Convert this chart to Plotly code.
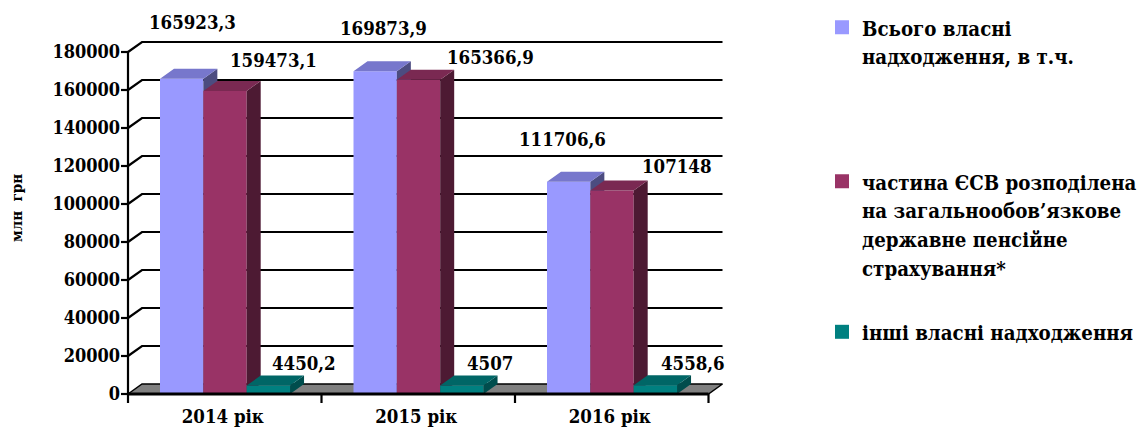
import plotly.graph_objects as go

# ---------------- data ----------------
categories = ["2014 рік", "2015 рік", "2016 рік"]
series_names = [
    "Всього власні<br>надходження, в т.ч.",
    "частина ЄСВ розподілена<br>на загальнообов’язкове<br>державне пенсійне<br>страхування*",
    "інші власні надходження",
]
total_own = [165923.3, 169873.9, 111706.6]
esv_pension = [159473.1, 165366.9, 107148]
other_own = [4450.2, 4507, 4558.6]
y_ticks = [0, 20000, 40000, 60000, 80000, 100000, 120000, 140000, 160000, 180000]

series_values = [total_own, esv_pension, other_own]

# ---------------- style ----------------
FONT = "DejaVu Serif Condensed, DejaVu Serif"
front_colors = ["#9999FF", "#993366", "#008080"]
top_colors = ["#7777CC", "#7A2952", "#006666"]
side_colors = ["#4C4C80", "#4D1A33", "#004D4D"]

W, H = 1147, 430
PX_X = 193.5            # px per category
PX_Y = 342 / 180000     # px per unit
LEFT_PX, RIGHT_PX, TOP_PX, BOT_PX = 121, 732, 30, 403
X0_PX, Y0_PX = 128, 394  # pixel of (0, 0)
DEPTH_X_PX, DEPTH_Y_PX = 14, 10

dxu = DEPTH_X_PX / PX_X
dyu = DEPTH_Y_PX / PX_Y
xmin = -(X0_PX - LEFT_PX) / PX_X
xmax = xmin + (RIGHT_PX - LEFT_PX) / PX_X
ymin = -(BOT_PX - Y0_PX) / PX_Y
ymax = (Y0_PX - TOP_PX) / PX_Y

group_offset = 0.1654
bar_w = 0.224
n_cat = len(categories)

# label shifts in pixels (x right, y up) relative to bar front-top centre
label_shift = [
    [(11, 56), (8, 43), (-6, 42)],
    [(48, 31), (72, 22), (64, 24)],
    [(36, 22), (28, 22), (38, 22)],
]

fig = go.Figure()

def poly_trace(xs, ys, color, line_color=None, line_width=0):
    return go.Scatter(x=xs, y=ys, mode="lines", fill="toself", fillcolor=color,
                      line=dict(color=line_color or color, width=line_width),
                      hoverinfo="skip", showlegend=False)

def line_trace(xs, ys, width=2, color="black"):
    return go.Scatter(x=xs, y=ys, mode="lines", line=dict(color=color, width=width),
                      hoverinfo="skip", showlegend=False)

# floor
fig.add_trace(poly_trace([0, n_cat, n_cat + dxu, dxu, 0], [0, 0, dyu, dyu, 0],
                         "#808080", "black", 1.5))

# back wall gridlines with diagonal connectors
gx, gy = [], []
for t in y_ticks[1:]:
    gx += [0, dxu, n_cat + dxu, None]
    gy += [t, t + dyu, t + dyu, None]
fig.add_trace(line_trace(gx, gy, 2.2))

# bars (front, side, top faces)
for j, vals in enumerate(series_values):
    fx, fy, sx, sy, tx, ty = [], [], [], [], [], []
    for i, v in enumerate(vals):
        xl = i + group_offset + j * bar_w
        xr = xl + bar_w
        fx += [xl, xr, xr, xl, xl, None]
        fy += [0, 0, v, v, 0, None]
        sx += [xr, xr + dxu, xr + dxu, xr, xr, None]
        sy += [0, dyu, v + dyu, v, 0, None]
        tx += [xl, xr, xr + dxu, xl + dxu, xl, None]
        ty += [v, v, v + dyu, v + dyu, v, None]
    fig.add_trace(poly_trace(fx, fy, front_colors[j]))
    fig.add_trace(poly_trace(sx, sy, side_colors[j]))
    fig.add_trace(poly_trace(tx, ty, top_colors[j]))

# front axes
fig.add_trace(line_trace([0, 0], [0, y_ticks[-1]], 2.2))
fig.add_trace(line_trace([0, n_cat], [0, 0], 3))
tkx, tky = [], []
for t in y_ticks:
    tkx += [-7 / PX_X, 0, None]
    tky += [t, t, None]
for k in range(n_cat + 1):
    tkx += [k, k, None]
    tky += [0, -9 / PX_Y, None]
fig.add_trace(line_trace(tkx, tky, 2.2))

# legend-only traces (line spacing from the legend font size, glyphs from the span)
legend_ids = ["legend", "legend2", "legend3"]
for j, name in enumerate(series_names):
    styled = "<br>".join("<span style='font-size:20.3px'><b>%s</b></span>" % ln
                         for ln in name.split("<br>"))
    fig.add_trace(go.Scatter(x=[None], y=[None], mode="markers", name=styled,
                             marker=dict(symbol="square", size=14, color=front_colors[j],
                                         line=dict(width=0)),
                             legend=legend_ids[j], showlegend=True))

pw = RIGHT_PX - LEFT_PX
ph = BOT_PX - TOP_PX

# data labels
annotations = []
for j, vals in enumerate(series_values):
    for i, v in enumerate(vals):
        xc = i + group_offset + j * bar_w + bar_w / 2
        txt = ("%s" % v).replace(".", ",")
        sx_, sy_ = label_shift[j][i]
        annotations.append(dict(x=xc, y=v, xref="x", yref="y", text=txt, showarrow=False,
                                xshift=sx_, yshift=sy_, xanchor="center", yanchor="middle",
                                font=dict(family=FONT, size=18.5, color="black", weight="bold")))

annotations.append(dict(x=(17 - LEFT_PX) / pw, y=(BOT_PX - 208) / ph, xref="paper", yref="paper",
                        text="млн\u00a0\u00a0грн", showarrow=False, textangle=-90,
                        xanchor="center", yanchor="middle",
                        font=dict(family=FONT, size=15, color="black", weight="bold")))

leg_font = dict(family=FONT, size=22, color="black")
legend_common = dict(xref="container", yref="container", xanchor="left", yanchor="top",
                     font=leg_font, bgcolor="rgba(0,0,0,0)", valign="top",
                     itemsizing="trace", borderwidth=0)

fig.update_layout(
    width=W, height=H,
    margin=dict(l=LEFT_PX, r=W - RIGHT_PX, t=TOP_PX, b=H - BOT_PX, autoexpand=False),
    paper_bgcolor="white", plot_bgcolor="white",
    xaxis=dict(range=[xmin, xmax], showgrid=False, zeroline=False, showline=False,
               tickvals=[i + 0.49 for i in range(n_cat)], ticktext=categories, ticks="",
               tickfont=dict(family=FONT, size=18.5, color="black", weight="bold"),
               fixedrange=True),
    yaxis=dict(range=[ymin, ymax], showgrid=False, zeroline=False, showline=False,
               tickvals=y_ticks, ticktext=[str(t) for t in y_ticks], ticks="",
               tickfont=dict(family=FONT, size=18, color="black", weight="bold"),
               fixedrange=True),
    legend=dict(x=822 / W, y=1 - 6.5 / H, **legend_common),
    legend2=dict(x=822 / W, y=1 - 160.5 / H, **legend_common),
    legend3=dict(x=822 / W, y=1 - 311 / H, **legend_common),
    annotations=annotations,
    showlegend=True,
)

fig.write_html("out.html", config={"displayModeBar": False},
               post_script="document.body.style.margin='0';document.body.style.padding='0';")
